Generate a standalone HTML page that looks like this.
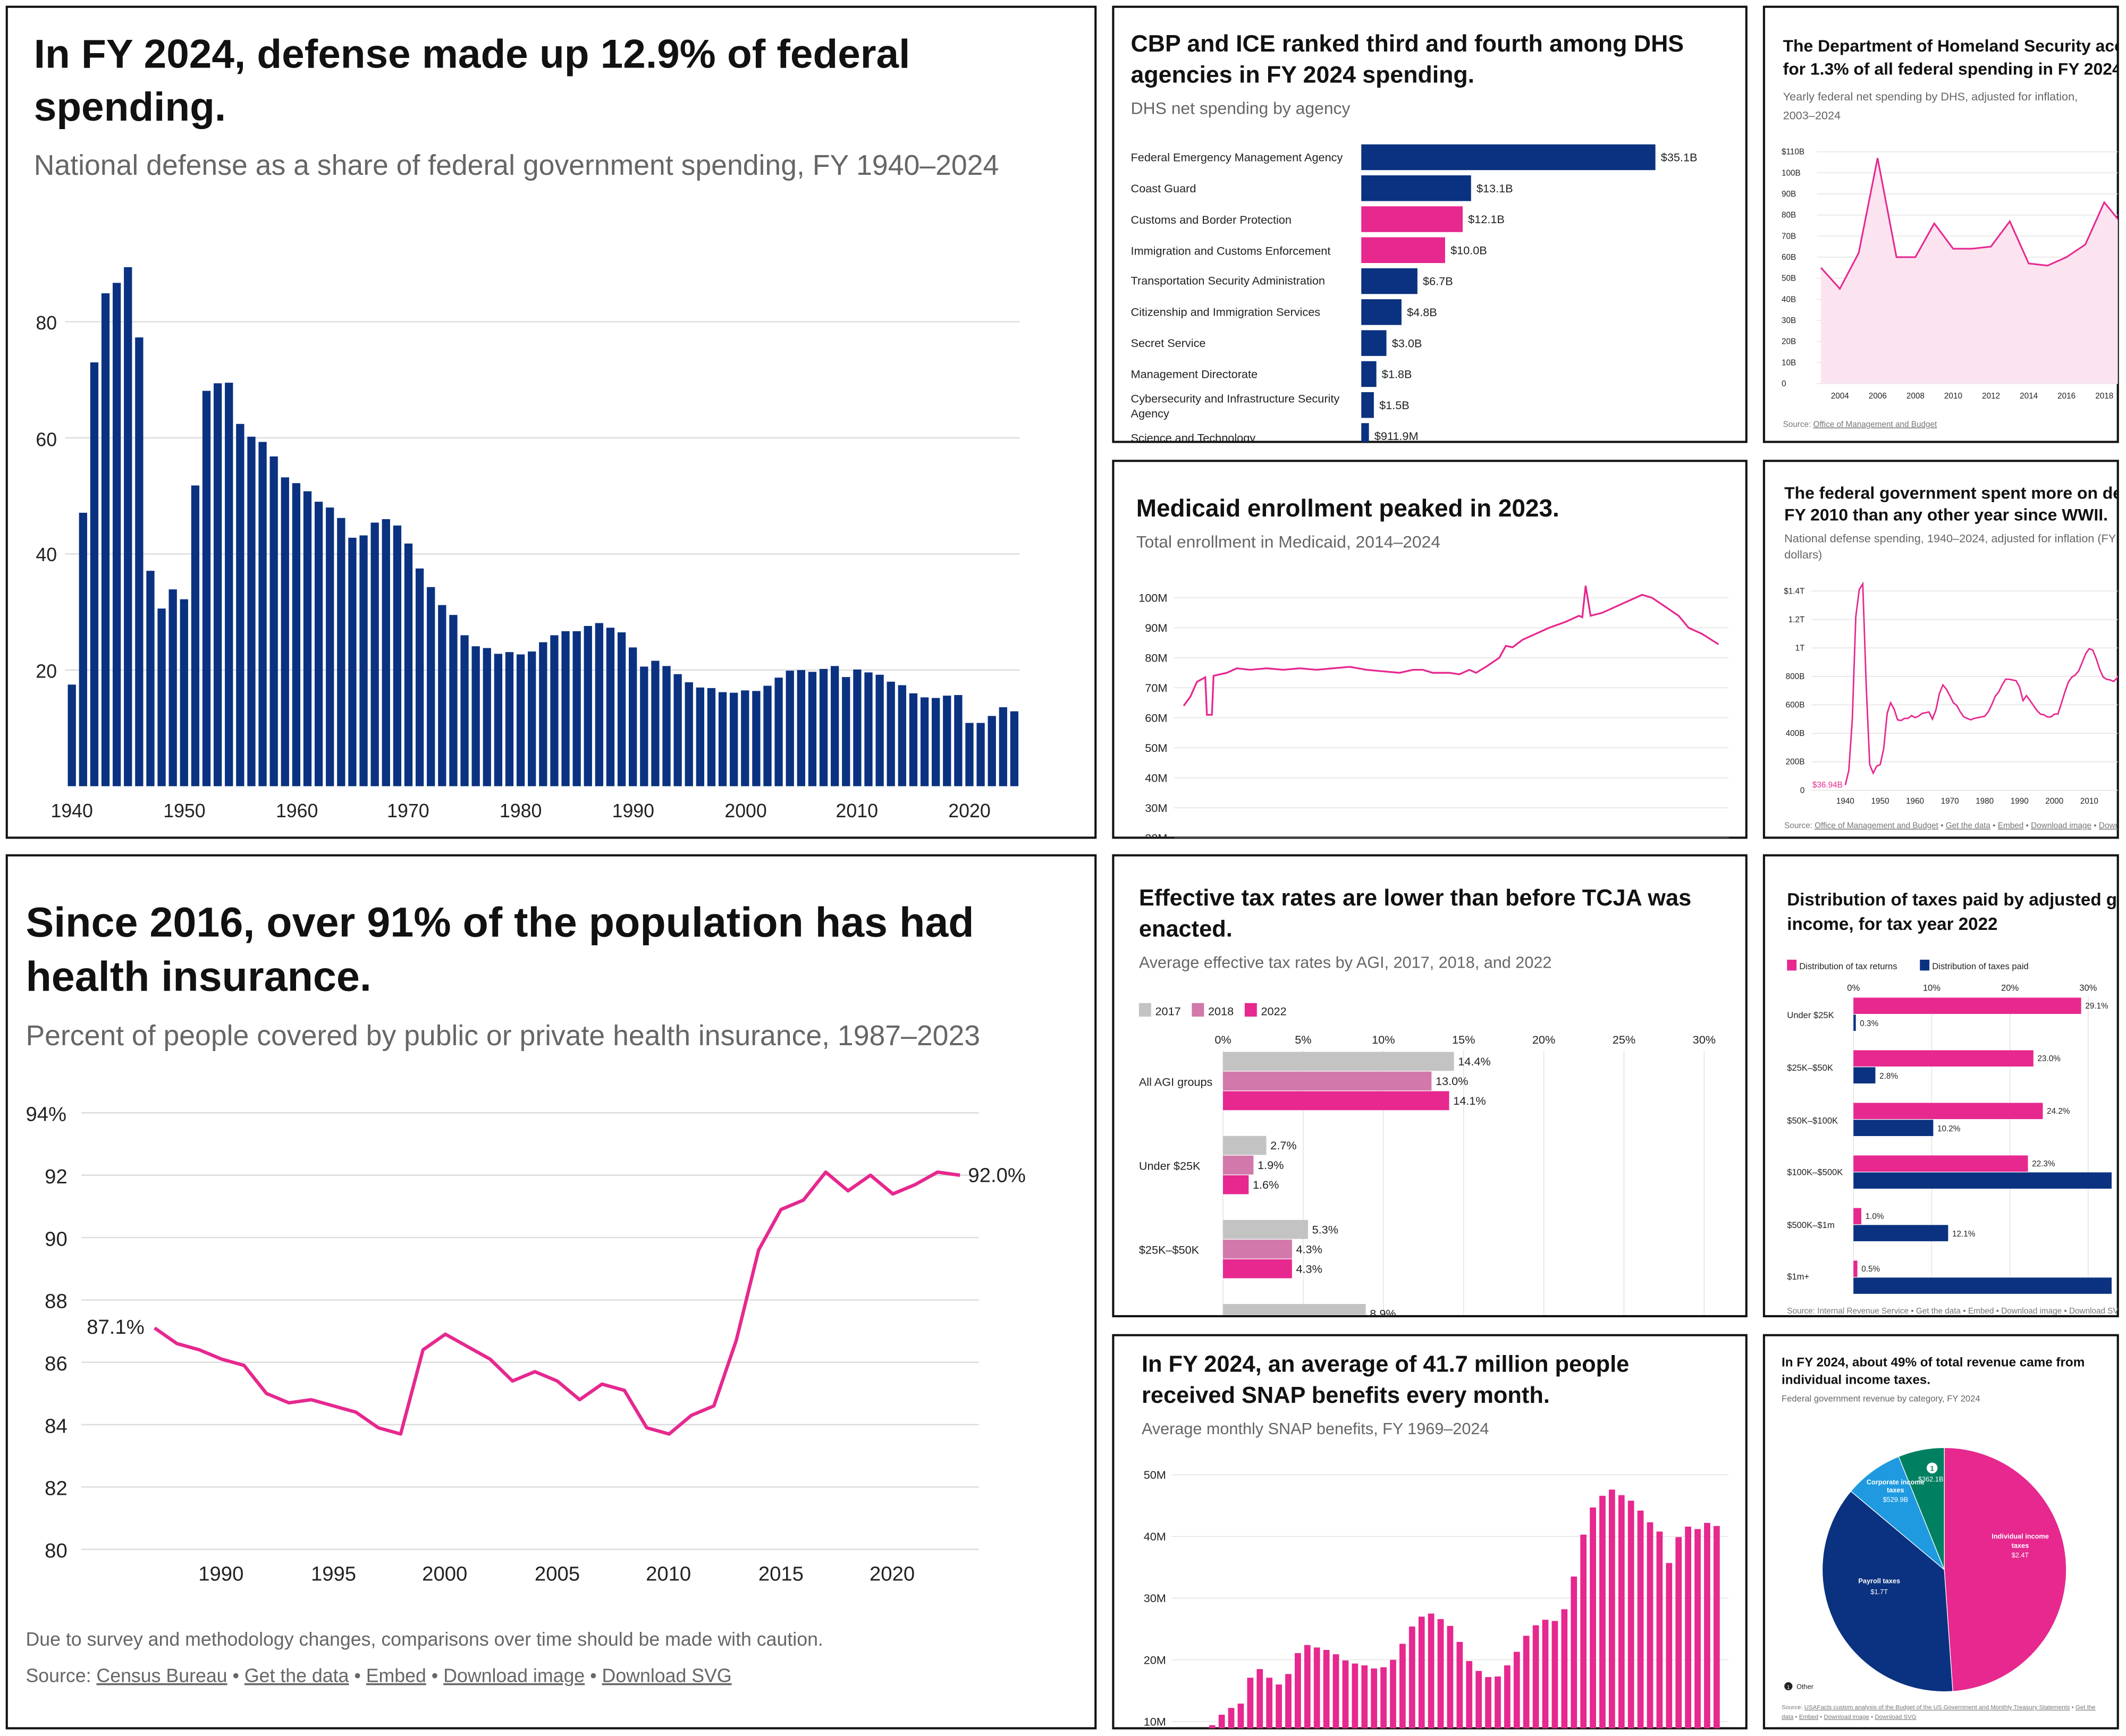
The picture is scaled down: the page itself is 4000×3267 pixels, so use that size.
<!DOCTYPE html>
<html><head><meta charset="utf-8">
<style>
html,body{margin:0;padding:0;background:#fff;width:4000px;height:3267px;overflow:hidden;}
svg{display:block;}
text{font-family:"Liberation Sans",sans-serif;}
.t{font-weight:bold;fill:#111;}
.s{fill:#666;}
.k{fill:#222;}
.src{fill:#777;}
</style></head>
<body>
<svg id="m" width="4000" height="3267" viewBox="0 0 1568 1280.7" preserveAspectRatio="none" xmlns="http://www.w3.org/2000/svg" overflow="hidden">
<rect width="1568" height="1280" fill="#fff"/>
<g fill="none" stroke="#111" stroke-width="1.6">
<rect x="5" y="5" width="803" height="613"/>
<rect x="821" y="5" width="467" height="321"/>
<rect x="1301" y="5" width="261" height="321"/>
<rect x="821" y="340" width="467" height="278"/>
<rect x="1301" y="340" width="261" height="278"/>
<rect x="5" y="631" width="803" height="644"/>
<rect x="821" y="631" width="467" height="340"/>
<rect x="1301" y="631" width="261" height="340"/>
<rect x="821" y="985" width="467" height="290"/>
<rect x="1301" y="985" width="261" height="290"/>
</g>

<text class="t" x="25" y="50" font-size="30">In FY 2024, defense made up 12.9% of federal</text>
<text class="t" x="25" y="89" font-size="30">spending.</text>
<text class="s" x="25" y="129" font-size="21">National defense as a share of federal government spending, FY 1940–2024</text>
<g id="p1grid"></g>
<g class="k" font-size="14" text-anchor="end">
<text x="42" y="243">80</text><text x="42" y="329">60</text><text x="42" y="414">40</text><text x="42" y="500">20</text>
</g>
<g class="k" font-size="14" text-anchor="middle">
<text x="53" y="603">1940</text><text x="136" y="603">1950</text><text x="219" y="603">1960</text><text x="301" y="603">1970</text><text x="384" y="603">1980</text><text x="467" y="603">1990</text><text x="550" y="603">2000</text><text x="632" y="603">2010</text><text x="715" y="603">2020</text>
</g>
<g id="p1"></g>

<text class="t" x="834" y="38" font-size="17.5">CBP and ICE ranked third and fourth among DHS</text>
<text class="t" x="834" y="61" font-size="17.5">agencies in FY 2024 spending.</text>
<text class="s" x="834" y="84" font-size="12.5">DHS net spending by agency</text>
<svg x="821" y="5" width="467" height="321" overflow="hidden"><g transform="translate(-821,-5)" id="p2">
<g class="k" font-size="8.5">
<text x="834" y="119">Federal Emergency Management Agency</text>
<text x="834" y="142">Coast Guard</text>
<text x="834" y="165">Customs and Border Protection</text>
<text x="834" y="188">Immigration and Customs Enforcement</text>
<text x="834" y="210">Transportation Security Administration</text>
<text x="834" y="233">Citizenship and Immigration Services</text>
<text x="834" y="256">Secret Service</text>
<text x="834" y="279">Management Directorate</text>
<text x="834" y="297">Cybersecurity and Infrastructure Security</text>
<text x="834" y="308">Agency</text>
<text x="834" y="326">Science and Technology</text>
</g></g></svg>

<svg x="1301" y="5" width="261" height="321" overflow="hidden"><g transform="translate(-1301,-5)">
<text class="t" x="1315" y="38" font-size="12.5">The Department of Homeland Security accounted</text>
<text class="t" x="1315" y="55" font-size="12.5">for 1.3% of all federal spending in FY 2024.</text>
<text class="s" x="1315" y="74" font-size="8.5">Yearly federal net spending by DHS, adjusted for inflation,</text>
<text class="s" x="1315" y="88" font-size="8.5">2003–2024</text>
<g id="p3"></g>
<text class="src" x="1315" y="315" font-size="6">Source: <tspan text-decoration="underline">Office of Management and Budget</tspan></text>
</g></svg>

<text class="t" x="838" y="381" font-size="18">Medicaid enrollment peaked in 2023.</text>
<text class="s" x="838" y="404" font-size="12.5">Total enrollment in Medicaid, 2014–2024</text>
<svg x="821" y="340" width="467" height="278" overflow="hidden"><g transform="translate(-821,-340)" id="p4"></g></svg>

<svg x="1301" y="340" width="261" height="278" overflow="hidden"><g transform="translate(-1301,-340)">
<text class="t" x="1316" y="368" font-size="12.5">The federal government spent more on defense in</text>
<text class="t" x="1316" y="384" font-size="12.5">FY 2010 than any other year since WWII.</text>
<text class="s" x="1316" y="400" font-size="8.5">National defense spending, 1940–2024, adjusted for inflation (FY 2024</text>
<text class="s" x="1316" y="412" font-size="8.5">dollars)</text>
<g id="p5"></g>
<text class="src" x="1316" y="611" font-size="6">Source: <tspan text-decoration="underline">Office of Management and Budget</tspan> • <tspan text-decoration="underline">Get the data</tspan> • <tspan text-decoration="underline">Embed</tspan> • <tspan text-decoration="underline">Download image</tspan> • <tspan text-decoration="underline">Download SVG</tspan></text>
</g></svg>

<text class="t" x="19" y="691" font-size="31">Since 2016, over 91% of the population has had</text>
<text class="t" x="19" y="731" font-size="31">health insurance.</text>
<text class="s" x="19" y="771" font-size="21">Percent of people covered by public or private health insurance, 1987–2023</text>
<g id="p6"></g>
<g class="k" font-size="15" text-anchor="start">
<text x="19" y="827">94%</text><text x="33" y="873">92</text><text x="33" y="919">90</text><text x="33" y="965">88</text><text x="33" y="1011">86</text><text x="33" y="1057">84</text><text x="33" y="1103">82</text><text x="33" y="1149">80</text>
</g>
<g class="k" font-size="15" text-anchor="middle">
<text x="163" y="1166">1990</text><text x="246" y="1166">1995</text><text x="328" y="1166">2000</text><text x="411" y="1166">2005</text><text x="493" y="1166">2010</text><text x="576" y="1166">2015</text><text x="658" y="1166">2020</text>
</g>
<text class="k" x="64" y="984" font-size="15">87.1%</text>
<text class="k" x="714" y="872" font-size="15">92.0%</text>
<text class="s" x="19" y="1214" font-size="14">Due to survey and methodology changes, comparisons over time should be made with caution.</text>
<text class="s" x="19" y="1241" font-size="14">Source: <tspan text-decoration="underline">Census Bureau</tspan> • <tspan text-decoration="underline">Get the data</tspan> • <tspan text-decoration="underline">Embed</tspan> • <tspan text-decoration="underline">Download image</tspan> • <tspan text-decoration="underline">Download SVG</tspan></text>

<text class="t" x="840" y="668" font-size="17">Effective tax rates are lower than before TCJA was</text>
<text class="t" x="840" y="691" font-size="17">enacted.</text>
<text class="s" x="840" y="714" font-size="12">Average effective tax rates by AGI, 2017, 2018, and 2022</text>
<svg x="821" y="631" width="467" height="340" overflow="hidden"><g transform="translate(-821,-631)" id="p7">
<rect x="840" y="740" width="9" height="10" fill="#c3c3c3"/><text class="k" x="852" y="749" font-size="8.5">2017</text>
<rect x="879" y="740" width="9" height="10" fill="#d278aa"/><text class="k" x="891" y="749" font-size="8.5">2018</text>
<rect x="918" y="740" width="9" height="10" fill="#e6288f"/><text class="k" x="930" y="749" font-size="8.5">2022</text>
<g class="k" font-size="8.5">
<text x="840" y="801">All AGI groups</text><text x="840" y="863">Under $25K</text><text x="840" y="925">$25K–$50K</text>
</g>
</g></svg>

<svg x="1301" y="631" width="261" height="340" overflow="hidden"><g transform="translate(-1301,-631)" id="p8">
<text class="t" x="1318" y="668" font-size="13">Distribution of taxes paid by adjusted gross</text>
<text class="t" x="1318" y="686" font-size="13">income, for tax year 2022</text>
<rect x="1318" y="708" width="7" height="8" fill="#e6288f"/><text class="k" x="1327" y="715" font-size="6.5">Distribution of tax returns</text>
<rect x="1416" y="708" width="7" height="8" fill="#0b3280"/><text class="k" x="1425" y="715" font-size="6.5">Distribution of taxes paid</text>
<g class="k" font-size="6.5">
<text x="1318" y="751">Under $25K</text><text x="1318" y="790">$25K–$50K</text><text x="1318" y="829">$50K–$100K</text><text x="1318" y="867">$100K–$500K</text><text x="1318" y="906">$500K–$1m</text><text x="1318" y="944">$1m+</text>
</g>
<text class="src" x="1318" y="969" font-size="6">Source: Internal Revenue Service • Get the data • Embed • Download image • Download SVG</text>
</g></svg>

<text class="t" x="842" y="1012" font-size="17">In FY 2024, an average of 41.7 million people</text>
<text class="t" x="842" y="1035" font-size="17">received SNAP benefits every month.</text>
<text class="s" x="842" y="1058" font-size="12">Average monthly SNAP benefits, FY 1969–2024</text>
<svg x="821" y="985" width="467" height="290" overflow="hidden"><g transform="translate(-821,-985)" id="p9"></g></svg>

<text class="t" x="1314" y="1008" font-size="9.5">In FY 2024, about 49% of total revenue came from</text>
<text class="t" x="1314" y="1021" font-size="9.5">individual income taxes.</text>
<text class="s" x="1314" y="1034" font-size="6.5">Federal government revenue by category, FY 2024</text>
<g id="p10"></g>
<g fill="#fff" font-size="5" text-anchor="middle" font-weight="bold">
<text x="1490" y="1135">Individual income</text><text x="1490" y="1142">taxes</text><text x="1490" y="1149" font-weight="normal">$2.4T</text>
<text x="1386" y="1168">Payroll taxes</text><text x="1386" y="1176" font-weight="normal">$1.7T</text>
<text x="1398" y="1095">Corporate income</text><text x="1398" y="1101">taxes</text><text x="1398" y="1108" font-weight="normal">$529.9B</text>
<text x="1424" y="1093" font-weight="normal">$362.1B</text>
</g>
<circle cx="1425" cy="1083" r="4" fill="#fff"/><text x="1425" y="1085" font-size="5" text-anchor="middle" fill="#008060" font-weight="bold">1</text>
<circle cx="1319" cy="1244" r="3" fill="#222"/><text x="1319" y="1246" font-size="4" text-anchor="middle" fill="#fff">1</text>
<text class="k" x="1325" y="1246" font-size="5">Other</text>
<text class="src" x="1314" y="1261" font-size="4.5">Source: <tspan text-decoration="underline">USAFacts custom analysis of the Budget of the US Government and Monthly Treasury Statements</tspan> • <tspan text-decoration="underline">Get the</tspan></text>
<text class="src" x="1314" y="1268" font-size="4.5"><tspan text-decoration="underline">data</tspan> • <tspan text-decoration="underline">Embed</tspan> • <tspan text-decoration="underline">Download image</tspan> • <tspan text-decoration="underline">Download SVG</tspan></text>
</svg>

<script>
var NS="http://www.w3.org/2000/svg";
function el(p,t,a){var e=document.createElementNS(NS,t);for(var k in a)e.setAttribute(k,a[k]);document.getElementById(p).appendChild(e);return e;}
function txt(p,x,y,s,sz,anchor,fill){var e=el(p,"text",{x:x,y:y,"font-size":sz,"text-anchor":anchor||"start",fill:fill||"#222"});e.textContent=s;}
var NAVY="#0b3280",PINK="#e6288f";
[80,60,40,20].forEach(function(v){var y=580-v*4.283;el("p1grid","line",{x1:48,x2:752,y1:y,y2:y,stroke:"#ddd","stroke-width":1});});
var d1=[17.5,47.1,73.0,84.9,86.7,89.4,77.3,37.1,30.6,33.9,32.2,51.8,68.1,69.4,69.5,62.4,60.2,59.3,56.8,53.2,52.2,50.8,49.0,48.0,46.2,42.8,43.2,45.4,46.0,44.9,41.8,37.5,34.3,31.2,29.5,26.0,24.1,23.8,22.8,23.1,22.7,23.2,24.8,26.0,26.7,26.7,27.6,28.1,27.3,26.5,23.9,20.6,21.6,20.7,19.3,17.9,17.0,16.9,16.2,16.1,16.5,16.4,17.3,18.7,19.9,20.0,19.7,20.2,20.7,18.8,20.1,19.6,19.2,18.0,17.4,16.0,15.3,15.2,15.6,15.7,10.9,10.9,12.1,13.6,12.9];
d1.forEach(function(v,i){var x=53+i*8.275;el("p1","rect",{x:x-3,y:580-v*4.283,width:6,height:v*4.283,fill:NAVY});});
var d2=[35.1,13.1,12.1,10.0,6.7,4.8,3.0,1.8,1.5,0.9119],l2=["$35.1B","$13.1B","$12.1B","$10.0B","$6.7B","$4.8B","$3.0B","$1.8B","$1.5B","$911.9M"];
d2.forEach(function(v,i){var y=116+i*22.85,w=v*6.18;el("p2","rect",{x:1004,y:y-9.5,width:w,height:19,fill:(i==2||i==3)?PINK:NAVY});txt("p2",1008+w,y+3,l2[i],8.5);});
var y3=["110B","100B","90B","80B","70B","60B","50B","40B","30B","20B","10B","0"];
y3.forEach(function(s,i){var v=110-i*10,y=283-v*1.555;el("p3","line",{x1:1340,x2:1562,y1:y,y2:y,stroke:"#e3e3e3","stroke-width":0.6});txt("p3",1314,y+2,(i==0?"$":"")+s,6);});
for(var yr=2004;yr<=2018;yr+=2)txt("p3",1357+(yr-2004)*13.93,294,""+yr,6,"middle");
var d3=[55,45,62,107,60,60,76,64,64,65,77,57,56,60,66,86,75];
var pts=d3.map(function(v,i){return (1343+i*13.93)+","+(283-v*1.555);});
el("p3","polygon",{points:"1343,283 "+pts.join(" ")+" "+(1343+16*13.93)+",283",fill:"#fbe3ef"});
el("p3","polyline",{points:pts.join(" "),fill:"none",stroke:PINK,"stroke-width":1.2});
var y4=[100,90,80,70,60,50,40,30,20];
y4.forEach(function(v){var y=441+(100-v)*2.214;el("p4","line",{x1:866,x2:1275,y1:y,y2:y,stroke:"#e3e3e3","stroke-width":0.6});txt("p4",861,y+3,v+"M",8.5,"end");});
var d4=[[2014,64],[2014.2,67],[2014.4,72],[2014.65,73.5],[2014.7,61],[2014.85,61],[2014.9,74],[2015.3,75],[2015.6,76.5],[2016,76],[2016.5,76.5],[2017,76],[2017.5,76.5],[2018,76],[2018.5,76.5],[2019,77],[2019.5,76],[2020,75.5],[2020.5,75],[2020.9,76],[2021.2,76],[2021.5,75],[2022,75],[2022.3,74.5],[2022.6,76],[2022.8,75],[2023.1,77],[2023.5,80],[2023.7,84],[2023.9,83.5],[2024.2,86],[2024.6,88],[2025,90],[2025.5,92],[2025.9,94],[2026,93.5],[2026.1,104],[2026.25,94],[2026.6,95],[2027,97],[2027.4,99],[2027.8,101],[2028.1,100],[2028.5,97],[2028.9,94],[2029.2,90],[2029.6,88],[2030.1,84.5]];
el("p4","polyline",{points:d4.map(function(p){return (873+(p[0]-2014)*24.5)+","+(441+(100-p[1])*2.214);}).join(" "),fill:"none",stroke:PINK,"stroke-width":1.3});
var y5=[["$1.4T",1400],["1.2T",1200],["1T",1000],["800B",800],["600B",600],["400B",400],["200B",200],["0",0]];
y5.forEach(function(a){var y=583-a[1]*0.105;el("p5","line",{x1:1336,x2:1562,y1:y,y2:y,stroke:"#e3e3e3","stroke-width":0.6});txt("p5",1331,y+2,a[0],6,"end");});
var XS=2.57;
for(var yr=1940;yr<=2010;yr+=10)txt("p5",1361+(yr-1940)*XS,593,""+yr,6,"middle");
var d5=[37,140,500,1220,1410,1450,730,180,120,170,180,290,540,615,570,495,490,505,505,525,510,520,540,545,550,500,565,680,740,710,665,615,595,550,515,505,495,505,510,515,520,550,600,660,690,740,780,780,775,770,725,630,665,630,595,560,535,530,515,515,535,535,610,690,760,795,810,840,900,960,995,985,925,850,795,780,775,765,790,830,850,860,870,880,890];
el("p5","polyline",{points:d5.map(function(v,i){return (1361+i*XS)+","+(583-v*0.105);}).join(" "),fill:"none",stroke:PINK,"stroke-width":1.1});
txt("p5",1359,581,"$36.94B",6,"end",PINK);
for(var v=80;v<=94;v+=2){var y=821+(94-v)*23;el("p6","line",{x1:60,x2:722,y1:y,y2:y,stroke:"#ddd","stroke-width":1});}
var d6=[87.1,86.6,86.4,86.1,85.9,85.0,84.7,84.8,84.6,84.4,83.9,83.7,86.4,86.9,86.5,86.1,85.4,85.7,85.4,84.8,85.3,85.1,83.9,83.7,84.3,84.6,86.7,89.6,90.9,91.2,92.1,91.5,92.0,91.4,91.7,92.1,92.0];
el("p6","polyline",{points:d6.map(function(v,i){return (114+i*16.5)+","+(821+(94-v)*23);}).join(" "),fill:"none",stroke:PINK,"stroke-width":2.5,"stroke-linejoin":"round"});
for(var p=0;p<=30;p+=5){var x=902+p*11.83;el("p7","line",{x1:x,x2:x,y1:775,y2:970,stroke:"#e3e3e3","stroke-width":0.6});txt("p7",x,770,p+"%",8.5,"middle");}
var d7=[[14.4,13.0,14.1],[2.7,1.9,1.6],[5.3,4.3,4.3],[8.9,0,0]],c7=["#c3c3c3","#d278aa",PINK];
d7.forEach(function(g,gi){g.forEach(function(v,j){if(!v)return;var y=776+gi*62+j*14.5;var h=Math.min(14,970-y);el("p7","rect",{x:902,y:y,width:v*11.83,height:h,fill:c7[j]});txt("p7",905+v*11.83,y+10,v.toFixed(1)+"%",8.5);});});
for(var p=0;p<=30;p+=10){var x=1367+p*5.77;el("p8","line",{x1:x,x2:x,y1:735,y2:955,stroke:"#e3e3e3","stroke-width":0.6});txt("p8",x,731,p+"%",6.5,"middle");}
var d8=[[29.1,0.3],[23.0,2.8],[24.2,10.2],[22.3,33],[1.0,12.1],[0.5,33]];
d8.forEach(function(g,i){var y=736+i*38.8;el("p8","rect",{x:1367,y:y,width:g[0]*5.77,height:12,fill:PINK});txt("p8",1370+g[0]*5.77,y+8,g[0].toFixed(1)+"%",6);
el("p8","rect",{x:1367,y:y+12.5,width:g[1]*5.77,height:12,fill:NAVY});if(i!=3&&i!=5)txt("p8",1370+g[1]*5.77,y+21,g[1].toFixed(1)+"%",6);});
[50,40,30,20,10].forEach(function(v){var y=1088+(50-v)*4.55;el("p9","line",{x1:864,x2:1275,y1:y,y2:y,stroke:"#e3e3e3","stroke-width":0.6});txt("p9",860,y+3,v+"M",8.5,"end");});
var d9=[2.9,4.3,9.4,11.1,12.2,12.9,17.1,18.5,17.1,16.0,17.7,21.1,22.4,22.0,21.6,20.9,19.9,19.4,19.1,18.6,18.8,20.0,22.6,25.4,27.0,27.5,26.6,25.5,22.9,19.8,18.2,17.2,17.3,19.1,21.3,23.9,25.6,26.5,26.3,28.2,33.5,40.3,44.7,46.6,47.6,46.7,45.8,44.2,42.3,40.8,35.7,39.9,41.6,41.2,42.2,41.7];
d9.forEach(function(v,i){var x=880+i*7.02,y=1088+(50-v)*4.55;if(y<1275)el("p9","rect",{x:x-2.3,y:y,width:4.6,height:1275-y,fill:PINK});});
function arc(a0,a1,col){var cx=1434,cy=1158,r=90;function pt(a){a=a*Math.PI/180;return (cx+r*Math.sin(a))+","+(cy-r*Math.cos(a));}
el("p10","path",{d:"M"+cx+","+cy+" L"+pt(a0)+" A"+r+","+r+" 0 "+((a1-a0)>180?1:0)+" 1 "+pt(a1)+" Z",fill:col,stroke:"#fff","stroke-width":0.5});}
arc(0,176,PINK);arc(176,310,NAVY);arc(310,338,"#1f9ae0");arc(338,360,"#008060");
</script>
</body></html>
